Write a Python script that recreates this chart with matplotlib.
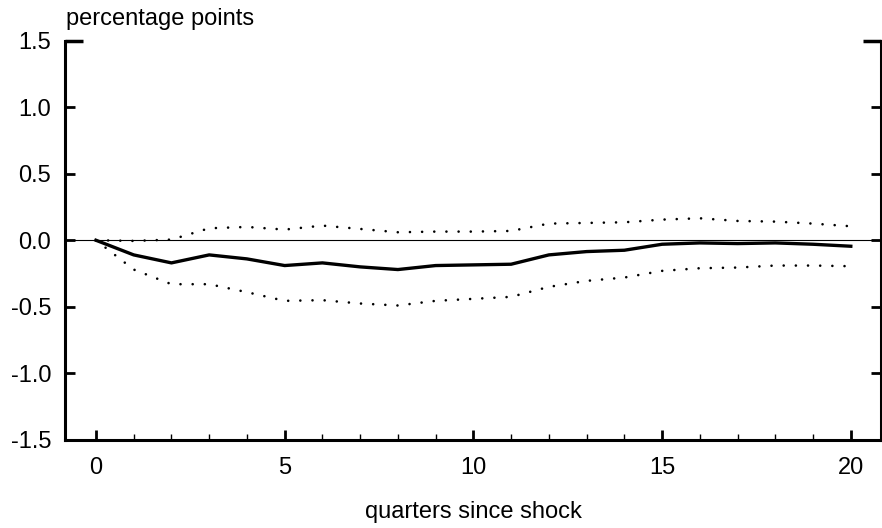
import matplotlib
matplotlib.use("Agg")
import matplotlib.pyplot as plt
from matplotlib.ticker import FixedLocator

plt.rcParams['font.family'] = ['Liberation Sans', 'DejaVu Sans']

quarters = list(range(21))
response = [0.0, -0.11, -0.17, -0.11, -0.14, -0.19, -0.17, -0.20, -0.22, -0.19,
            -0.185, -0.18, -0.11, -0.085, -0.075, -0.03, -0.02, -0.025, -0.02, -0.03, -0.045]
upper = [0.0, -0.005, 0.005, 0.09, 0.10, 0.08, 0.11, 0.085, 0.06, 0.065,
         0.065, 0.07, 0.125, 0.13, 0.135, 0.155, 0.165, 0.145, 0.14, 0.125, 0.105]
lower = [0.0, -0.22, -0.33, -0.33, -0.39, -0.455, -0.45, -0.475, -0.49, -0.455,
         -0.44, -0.425, -0.35, -0.305, -0.28, -0.23, -0.21, -0.205, -0.19, -0.19, -0.195]
x_ticks = [0, 5, 10, 15, 20]
y_ticks = [-1.5, -1.0, -0.5, 0.0, 0.5, 1.0, 1.5]
y_labels = ['-1.5', '-1.0', '-0.5', '0.0', '0.5', '1.0', '1.5']

fig = plt.figure(figsize=(8.82, 5.28), dpi=100)
ax = fig.add_axes([65/882, 1 - 440/528, (881-65)/882, (440-40.5)/528])

ax.axhline(0, color='black', lw=0.8, zorder=1)
for band in (upper, lower):
    ax.plot(quarters, band, color='black', lw=1.9, linestyle=(0, (0.01, 4.6)),
            dash_capstyle='round')
ax.plot(quarters, response, color='black', lw=2.4)

ax.set_xlim(-0.82, 20.8)
ax.set_ylim(-1.5, 1.5)

for s in ['left', 'bottom', 'right']:
    ax.spines[s].set_linewidth(2.2)
ax.spines['top'].set_visible(False)

ax.xaxis.set_major_locator(FixedLocator(x_ticks))
ax.xaxis.set_minor_locator(FixedLocator(quarters))
ax.set_xticklabels([str(v) for v in x_ticks])
ax.tick_params(axis='x', which='major', direction='in', length=7, width=2.0,
               labelsize=17, pad=12)
ax.tick_params(axis='x', which='minor', direction='in', length=4, width=1.0)

ax.yaxis.remove_overlapping_locs = False
ax.yaxis.set_major_locator(FixedLocator(y_ticks))
ax.yaxis.set_minor_locator(FixedLocator([1.5]))
ax.set_yticklabels(y_labels)
ax.tick_params(axis='y', which='major', direction='in', length=7, width=2.0,
               labelsize=17, pad=10, right=True)
ax.tick_params(axis='y', which='minor', direction='in', length=13, width=2.5, right=True)

fig.text(66/882, 1 - 25/528, 'percentage points', fontsize=17, ha='left', va='baseline')
ax.set_xlabel('quarters since shock', fontsize=17, labelpad=16)

fig.savefig('out.png', dpi=100)
